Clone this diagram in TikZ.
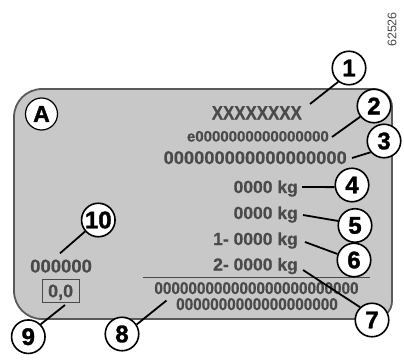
\documentclass[tikz,border=0pt]{standalone}
\usepackage{fontspec}
\setmainfont{Liberation Sans}
\newfontfamily\heavyfont[FakeBold=1.5]{Liberation Sans Bold}
\newfontfamily\labelfont[FakeBold=0.7]{Liberation Sans Bold}
\usepackage{graphicx}
\definecolor{ink}{HTML}{4A4A4A}
\definecolor{platefill}{HTML}{C8C8C8}
\definecolor{rim}{HTML}{5A5A5A}
\begin{document}
\begin{tikzpicture}[x=1pt,y=-1pt,
  callout/.style={circle,draw=black,line width=1.6pt,fill=white,minimum size=33.5pt,inner sep=0pt,font=\fontsize{24}{24}\heavyfont},
  lead/.style={draw=black,line width=1.8pt},
  lbl/.style={inner sep=0pt,text=ink},
]
\useasboundingbox (0,0) rectangle (404,359);
% plate
\draw[fill=platefill,draw=rim,line width=1.8pt]
  (42,89) -- (374,89) .. controls (383.9,89) and (392,97.1) .. (392,107)
  -- (392,301) .. controls (392,310.9) and (383.9,319) .. (374,319)
  -- (42,319) .. controls (26.5,319) and (14,306.5) .. (14,291)
  -- (14,117) .. controls (14,101.5) and (26.5,89) .. (42,89) -- cycle;
% reference number
\node[rotate=90,inner sep=0pt,text=ink,font=\fontsize{12.5}{12.5}\selectfont] (code) at (392,29.5) {62526};
% A
\node[circle,draw=black,line width=1.2pt,fill=white,minimum size=32pt,inner sep=0pt,font=\fontsize{23}{23}\heavyfont] (A) at (41.5,114) {A};
% texts
\node[lbl,anchor=base east,font=\fontsize{19.5}{19.5}\labelfont] (t1) at (302,119.5) {\scalebox{0.865}[1]{XXXXXXXX}};
\node[lbl,anchor=base east,font=\fontsize{15}{15}\labelfont] (t2) at (329,141.5) {e0000000000000000};
\node[lbl,anchor=base east,font=\fontsize{18.3}{18.3}\labelfont] (t3) at (347,164) {000000000000000000};
\node[lbl,anchor=base east,font=\fontsize{17.5}{17.5}\labelfont] (t4) at (298,193) {0000 kg};
\node[lbl,anchor=base east,font=\fontsize{17.5}{17.5}\labelfont] (t5) at (298,219) {0000 kg};
\node[lbl,anchor=base east,font=\fontsize{17.5}{17.5}\labelfont] (t6) at (298,245) {1- 0000 kg};
\node[lbl,anchor=base east,font=\fontsize{17.5}{17.5}\labelfont] (t7) at (298,270.5) {2- 0000 kg};
\draw[draw=ink,line width=1.2pt] (143,277.3) -- (370,277.3);
\node[lbl,anchor=base,font=\fontsize{17}{17}\labelfont] (t8a) at (256.5,294) {\scalebox{0.9}[1]{000000000000000000000000}};
\node[lbl,anchor=base,font=\fontsize{17}{17}\labelfont] (t8b) at (257,310) {\scalebox{0.9}[1]{0000000000000000000}};
\node[lbl,anchor=base west,font=\fontsize{18.5}{18.5}\labelfont] (t10) at (30,272.5) {000000};
\node[lbl,draw=ink,line width=1.2pt,minimum width=37pt,minimum height=23pt,text height=13pt,text depth=0pt,font=\fontsize{18}{18}\labelfont] (t9) at (60.6,290.7) {0,0};
% callouts
\node[callout] (c1) at (349,68) {1};
\node[callout] (c2) at (374,106) {2};
\node[callout] (c3) at (384,141) {3};
\node[callout] (c4) at (352,185) {4};
\node[callout] (c5) at (355,225.5) {5};
\node[callout] (c6) at (354,260) {6};
\node[callout] (c7) at (372,320) {7};
\node[callout] (c8) at (122,334) {8};
\node[callout] (c9) at (28.3,336.7) {9};
\node[callout] (c10) at (98.3,220) {10};
% leader start points
\coordinate (s1) at (310,104);
\coordinate (s2) at (332,137);
\coordinate (s3) at (352,158);
\coordinate (s4) at (302,187);
\coordinate (s5) at (303,215);
\coordinate (s6) at (305,242);
\coordinate (s7) at (303,270);
\coordinate (s8) at (166.5,300.5);
\coordinate (s9) at (65,305);
\coordinate (s10) at (60,253.3);
\draw[lead] (s1) -- (c1.232);
\draw[lead] (s2) -- (c2.218);
\draw[lead] (s3) -- (c3.220);
\draw[lead] (s4) -- (c4.187);
\draw[lead] (s5) -- (c5.165);
\draw[lead] (s6) -- (c6.160);
\draw[lead] (s7) -- (c7.133);
\draw[lead] (s8) -- (c8.33);
\draw[lead] (s9) -- (c9.45);
\draw[lead] (s10) -- (c10.221);
\end{tikzpicture}
\end{document}
